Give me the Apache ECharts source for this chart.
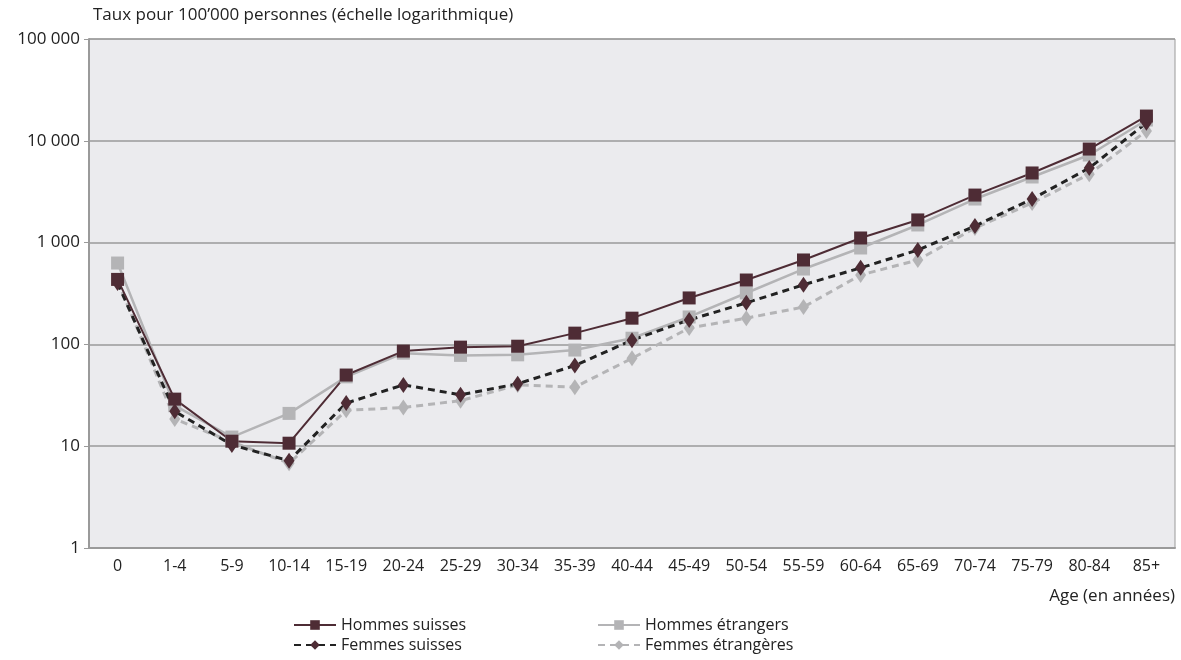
<!DOCTYPE html>
<html>
<head>
<meta charset="utf-8">
<script src="https://cdn.jsdelivr.net/npm/echarts@6/dist/echarts.min.js"></script>
<style>
  html, body { margin: 0; padding: 0; background: #fff; }
  #chart { width: 1181px; height: 660px; }
</style>
</head>
<body>
<div id="chart"></div>
<script>
  const ages = ['0', '1-4', '5-9', '10-14', '15-19', '20-24', '25-29', '30-34', '35-39', '40-44',
    '45-49', '50-54', '55-59', '60-64', '65-69', '70-74', '75-79', '80-84', '85+'];

  // taux pour 100'000 personnes
  const hommesSuisses = [435, 29, 11.2, 10.7, 50, 86, 94, 96, 129, 181, 286, 429, 675, 1110, 1670, 2930, 4830, 8300, 17500];
  const hommesEtrangers = [630, 25, 12.3, 21, 48, 82, 78, 79, 88, 115, 186, 320, 550, 885, 1490, 2680, 4410, 7250, 16000];
  const femmesSuisses = [400, 22, 10.3, 7.2, 26.5, 40, 32, 41, 62, 110, 174, 256, 385, 565, 845, 1455, 2680, 5400, 15000];
  const femmesEtrangeres = [420, 18.5, 11, 6.8, 22.5, 24, 28, 40, 38, 73, 145, 181, 233, 480, 675, 1390, 2450, 4700, 12500];

  const police = 'Open Sans, sans-serif';
  const bordeaux = '#4e2c35';
  const gris = '#b4b4b6';

  const chart = echarts.init(document.getElementById('chart'));

  function formatMilliers(v) {
    return String(Math.round(v)).replace(/\B(?=(\d{3})+(?!\d))/g, ' ');
  }

  const legendeTexte = { fontSize: 16, color: '#222', fontFamily: police };

  const option = {
    backgroundColor: '#fff',
    animation: false,
    textStyle: { fontFamily: police },
    grid: {
      left: 89, right: 6, top: 39, bottom: 112,
      show: true, backgroundColor: '#ebebee', borderColor: '#9a9a9a', borderWidth: 1
    },
    legend: [
      {
        left: 288, top: 612, orient: 'vertical', itemGap: 4,
        itemWidth: 42, itemHeight: 12,
        textStyle: legendeTexte,
        data: ['Hommes suisses', 'Femmes suisses']
      },
      {
        left: 592, top: 612, orient: 'vertical', itemGap: 4,
        itemWidth: 42, itemHeight: 12,
        textStyle: legendeTexte,
        data: ['Hommes étrangers', 'Femmes étrangères']
      }
    ],
    xAxis: {
      type: 'category',
      data: ages,
      boundaryGap: true,
      name: 'Age (en années)',
      nameLocation: 'end',
      nameGap: 0,
      nameTextStyle: { fontSize: 17, color: '#222', align: 'right', verticalAlign: 'top', padding: [40, 0, 0, 0] },
      axisLine: { lineStyle: { color: '#9a9a9a', width: 2 } },
      axisTick: { show: false },
      axisLabel: { fontSize: 16, color: '#222', margin: 10 }
    },
    yAxis: {
      type: 'log',
      logBase: 10,
      min: 1,
      max: 100000,
      name: 'Taux pour 100\u2019000 personnes (échelle logarithmique)',
      nameLocation: 'end',
      nameGap: 15,
      nameTextStyle: { fontSize: 17, color: '#222', align: 'left', padding: [0, 0, 0, 4] },
      axisLine: { show: true, lineStyle: { color: '#9a9a9a', width: 2 } },
      axisTick: { show: true, length: 5, lineStyle: { color: '#9a9a9a' } },
      axisLabel: { fontSize: 17, color: '#222', margin: 9, formatter: formatMilliers },
      splitLine: { show: true, lineStyle: { color: '#9a9a9a', width: 1.5 } },
      minorTick: { show: false }
    },
    series: [
      {
        name: 'Femmes étrangères', type: 'line', data: femmesEtrangeres,
        symbol: 'diamond', symbolSize: [11, 16],
        itemStyle: { color: gris },
        lineStyle: { color: gris, width: 3, type: [7, 5] }
      },
      {
        name: 'Hommes étrangers', type: 'line', data: hommesEtrangers,
        symbol: 'rect', symbolSize: 13,
        itemStyle: { color: gris },
        lineStyle: { color: gris, width: 2.5 }
      },
      {
        name: 'Femmes suisses', type: 'line', data: femmesSuisses,
        symbol: 'diamond', symbolSize: [11, 16],
        itemStyle: { color: bordeaux },
        lineStyle: { color: '#222', width: 3, type: [7, 5] }
      },
      {
        name: 'Hommes suisses', type: 'line', data: hommesSuisses,
        symbol: 'rect', symbolSize: 13,
        itemStyle: { color: bordeaux },
        lineStyle: { color: bordeaux, width: 2 }
      }
    ]
  };

  chart.setOption(option);
</script>
</body>
</html>
